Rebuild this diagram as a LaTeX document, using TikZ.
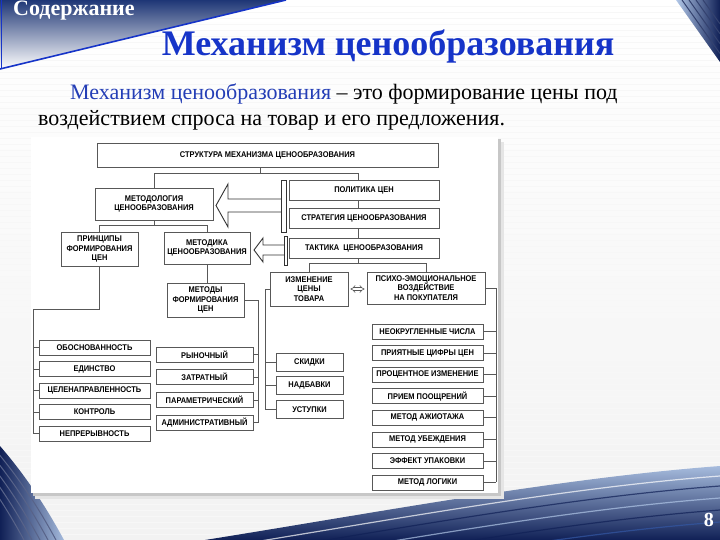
\documentclass[tikz,border=0pt]{standalone}
\usepackage{fontspec}
\setmainfont{Liberation Serif}
\setsansfont{Liberation Sans}[FakeStretch=0.9]
\usetikzlibrary{arrows.meta}
\definecolor{titleblue}{RGB}{22,52,200}
\definecolor{textblue}{RGB}{36,62,182}
\definecolor{bandblue}{RGB}{52,88,165}
\definecolor{bandnavy}{RGB}{16,32,86}
\definecolor{bandlight}{RGB}{178,200,232}
\definecolor{boxline}{RGB}{88,88,88}
\newcommand{\dfont}{\sffamily\bfseries\fontsize{8.3}{9.4}\selectfont}

\begin{document}
\begin{tikzpicture}[x=1pt,y=-1pt,
		box/.style={draw=boxline, line width=0.7pt, fill=white, font=\dfont, align=center, inner sep=1pt},
		wh/.style 2 args={minimum width=#1pt, minimum height=#2pt},
		link/.style={draw=boxline, line width=0.6pt},
		blockarrow/.style={draw=black!80, line width=0.9pt, fill=white, line join=miter}]
	\useasboundingbox (0,0) rectangle (720,540);
	% slide background
	\fill[top color=white, bottom color=black!5] (0,0) rectangle (720,540);
	\foreach \y in {6,12,...,534}
		\draw[black!3, line width=0.4pt] (0,\y) -- (720,\y);
	\shade[top color=bandnavy!60!bandblue, middle color=bandlight, bottom color=white] (0,0) -- (286,0) -- (0,69) -- cycle;
	\draw[titleblue, line width=1.6pt] (0,69) -- (286,0);
	\draw[titleblue, line width=1.6pt] (1.5,0) -- (1.5,69);
	\shade[left color=bandlight, right color=bandnavy] (676,0) -- (720,0) -- (720,62) -- cycle;
	\foreach \s in {6,13,20,27}
		\draw[bandnavy!85, line width=1pt] (676+\s,0) -- (720,{(44-\s)*62/44});
	\begin{scope}
		\clip (0,446) .. controls (25,475) and (45,505) .. (64,540) -- (0,540) -- cycle;
		\shade[left color=bandnavy, right color=bandlight] (0,440) rectangle (70,540);
		\foreach \o in {8,16,24,32,40}
			\draw[bandnavy!70, line width=1pt] (-\o,446) .. controls (25-\o,475) and (45-\o,505) .. (64-\o,540);
	\end{scope}
	\begin{scope}
		\clip (205,540) .. controls (380,512) and (560,478) .. (720,466) -- (720,540) -- cycle;
		\shade[top color=bandlight, bottom color=bandnavy] (200,460) rectangle (720,540);
		\foreach \o/\c in {10/white, 20/bandnavy, 32/bandlight, 44/bandnavy, 56/bandblue}
			\draw[\c, line width=1.2pt, opacity=0.7] (205,540+\o) .. controls (380,512+\o) and (560,478+\o) .. (720,466+\o);
	\end{scope}
	% texts of the slide
	\node[anchor=base west, inner sep=0pt, text=white, font=\bfseries\fontsize{22}{26}\selectfont] (contents) at (13,16) {Содержание};
	\node[anchor=base, text=titleblue, font=\bfseries\fontsize{36}{42}\selectfont] (title) at (388,56) {Механизм ценообразования};
	\node[anchor=base west, inner sep=0pt, font=\fontsize{22}{26}\selectfont] (line1) at (70,100) {\textcolor{textblue}{Механизм ценообразования} – это формирование цены под};
	\node[anchor=base west, inner sep=0pt, font=\fontsize{22}{26}\selectfont] (line2) at (38,126) {воздействием спроса на товар и его предложения.};
	\node[anchor=base east, inner sep=0pt, text=white, font=\bfseries\fontsize{20}{24}\selectfont] (pagenum) at (714,526) {8};
	% panel of the scheme
	\fill[black!10] (35,142) rectangle (504,499);
	\fill[black!22] (33,139) rectangle (501,496);
	\fill[white] (31,137) rectangle (498,493);
	% upper part
	\node[box, wh={341}{24}] (struct) at (267.5,155) {СТРУКТУРА МЕХАНИЗМА ЦЕНООБРАЗОВАНИЯ};
	\node[box, wh={118}{32}] (metodol) at (154,204) {МЕТОДОЛОГИЯ\\ЦЕНООБРАЗОВАНИЯ};
	\node[box, wh={150}{20}] (polit) at (364,190) {ПОЛИТИКА ЦЕН};
	\node[box, wh={150}{20}] (strat) at (364,218) {СТРАТЕГИЯ ЦЕНООБРАЗОВАНИЯ};
	\node[box, wh={150}{20}] (takt) at (364,248) {ТАКТИКА\ \ ЦЕНООБРАЗОВАНИЯ};
	\node[box, wh={77}{34}] (princ) at (99.5,249) {ПРИНЦИПЫ\\ФОРМИРОВАНИЯ\\ЦЕН};
	\node[box, wh={86}{32}] (metodika) at (207,248) {МЕТОДИКА\\ЦЕНООБРАЗОВАНИЯ};
	\node[box, wh={77}{34}] (metody) at (205.5,300) {МЕТОДЫ\\ФОРМИРОВАНИЯ\\ЦЕН};
	\node[box, wh={78}{34}] (izm) at (309,289) {ИЗМЕНЕНИЕ\\ЦЕНЫ\\ТОВАРА};
	\node[box, wh={118}{32}] (psych) at (426,288) {ПСИХО-ЭМОЦИОНАЛЬНОЕ\\ВОЗДЕЙСТВИЕ\\НА ПОКУПАТЕЛЯ};
	\draw[link] ([xshift=-7pt]struct.south) -- ++(0,6) coordinate (tb) -| (metodol.north);
	\draw[link] (tb) -| ([xshift=-6pt]polit.north);
	\draw[link] ([xshift=-6pt]polit.south) -- ([xshift=-6pt]strat.north);
	\draw[link] ([xshift=-6pt]strat.south) -- ([xshift=-6pt]takt.north);
	\draw[link] (metodol.south) -- ++(0,5) coordinate (mb) -| (princ.north);
	\draw[link] (mb) -| (metodika.north);
	\draw[link] (metodika.south) -- (metodika.south |- metody.north);
	\draw[link] ([xshift=-6pt]takt.south) -- ++(0,5) coordinate (tkb) -| (izm.north);
	\draw[link] (tkb) -| (psych.north);
	\draw[boxline, line width=0.6pt, double distance=2pt, shorten <=2pt, shorten >=2pt, {Implies}-{Implies}] (izm.east) -- (izm.east -| psych.west);
	% hollow arrows
	\draw[blockarrow] (281,199) -- (228,199) -- (228,184) -- (216,205.5) -- (228,227) -- (228,212) -- (281,212);
	\draw[blockarrow] (281,180) rectangle (286,232);
	\draw[blockarrow] (284,245) -- (263,245) -- (263,238) -- (254,250) -- (263,262) -- (263,255) -- (284,255);
	\draw[blockarrow] (284,236) rectangle (287,265);
	% principles
	\foreach \txt [count=\i] in {ОБОСНОВАННОСТЬ,ЕДИНСТВО,ЦЕЛЕНАПРАВЛЕННОСТЬ,КОНТРОЛЬ,НЕПРЕРЫВНОСТЬ}
		\node[box, wh={111}{15}] (pr\i) at (94.5,{347.5+21.5*(\i-1)}) {\txt};
	\coordinate (prbus) at (33,309);
	\draw[link] (princ.south) |- (prbus) -- (prbus |- pr5.west);
	\foreach \i in {1,...,5}
		\draw[link] (pr\i.west) -- (prbus |- pr\i.west);
	% methods
	\foreach \txt [count=\i] in {РЫНОЧНЫЙ,ЗАТРАТНЫЙ,ПАРАМЕТРИЧЕСКИЙ,АДМИНИСТРАТИВНЫЙ}
		\node[box, wh={97}{15}] (mt\i) at (204.5,{354.5+22.7*(\i-1)}) {\txt};
	\coordinate (mtbus) at (258,300);
	\draw[link] (metody.east) -- (mtbus) -- (mtbus |- mt4.east);
	\foreach \i in {1,...,4}
		\draw[link] (mt\i.east) -- (mtbus |- mt\i.east);
	% price change
	\foreach \txt [count=\i] in {СКИДКИ,НАДБАВКИ,УСТУПКИ}
		\node[box, wh={67}{18}] (iz\i) at (309.5,{362+23.75*(\i-1)}) {\txt};
	\coordinate (izbus) at (265,289);
	\draw[link] (izm.west) -- (izbus) -- (izbus |- iz3.west);
	\foreach \i in {1,...,3}
		\draw[link] (iz\i.west) -- (izbus |- iz\i.west);
	% psycho-emotional influence
	\foreach \txt [count=\i] in {НЕОКРУГЛЕННЫЕ ЧИСЛА,ПРИЯТНЫЕ ЦИФРЫ ЦЕН,ПРОЦЕНТНОЕ ИЗМЕНЕНИЕ,ПРИЕМ ПООЩРЕНИЙ,МЕТОД АЖИОТАЖА,МЕТОД УБЕЖДЕНИЯ,ЭФФЕКТ УПАКОВКИ,МЕТОД ЛОГИКИ}
		\node[box, wh={111}{15}] (ps\i) at (427.5,{331.5+21.57*(\i-1)}) {\txt};
	\coordinate (psbus) at (496,288);
	\draw[link] (psych.east) -- (psbus) -- (psbus |- ps8.east);
	\foreach \i in {1,...,8}
		\draw[link] (ps\i.east) -- (psbus |- ps\i.east);
\end{tikzpicture}
\end{document}
